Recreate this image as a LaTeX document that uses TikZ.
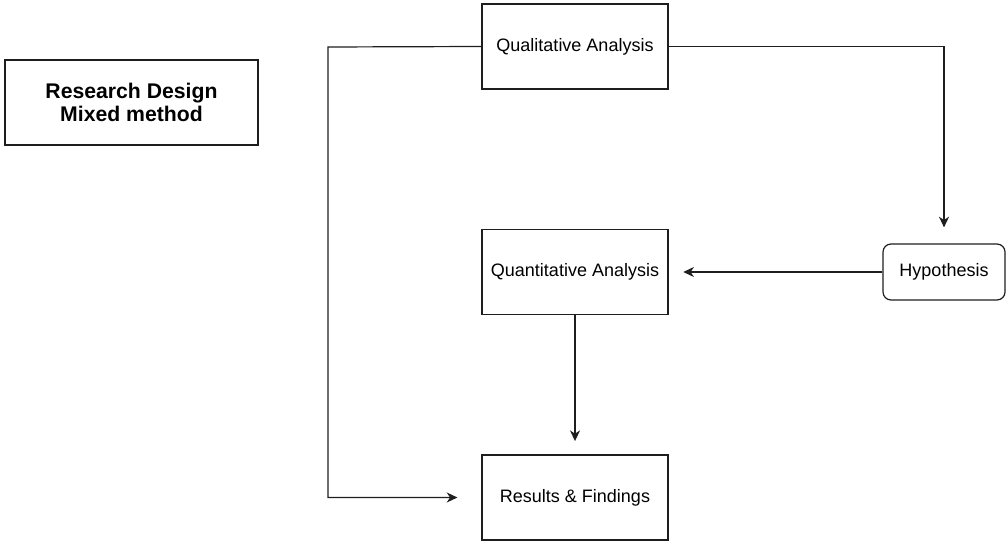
\documentclass[tikz,border=0pt]{standalone}
\usepackage{fontspec}
\setmainfont{Liberation Sans}
\usetikzlibrary{arrows.meta,positioning}
\definecolor{line1}{RGB}{30,30,30}

\begin{document}
\begin{tikzpicture}[
  x=0.75pt,y=-0.75pt,
  font=\fontsize{13.5}{16}\selectfont,
  box/.style={draw=line1,line width=0.9pt,minimum width=139.5pt,
              minimum height=63.75pt,align=center,inner sep=2pt},
  hbox/.style={draw=line1,line width=0.9pt,rounded corners=6pt,
               minimum width=91.5pt,minimum height=42pt,
               align=center,inner sep=2pt},
  title/.style={draw=line1,line width=0.9pt,minimum width=189.75pt,
                minimum height=63.75pt,align=center,inner sep=2pt,
                font=\bfseries\fontsize{15.9}{17.5}\selectfont},
  arr/.style={-{Stealth[length=8pt,width=7.5pt,inset=2.5pt]},
              line width=0.9pt,line1},
]
  \useasboundingbox (0,0) rectangle (1006,541);

  \node[title] (design) at (131.5,102.5) {Research Design\\Mixed method};

  \node[box] (qual) at (575,46.5) {Qualitative Analysis};
  \node[box] (quant) at (575,272) {Quantitative Analysis};
  \node[box] (res) at (575,497.5) {Results \& Findings};
  \node[hbox] (hyp) at (944,272) {Hypothesis};

  \coordinate (bend) at (328,47);

  \draw[arr,shorten >=18pt] (qual.west) -- (bend) |- (res.west);
  \draw[arr,shorten >=12pt] (qual.east) -| (hyp.north);
  \draw[arr,shorten >=11pt] (hyp.west) -- (quant.east);
  \draw[arr,shorten >=10pt] (quant.south) -- (res.north);
\end{tikzpicture}
\end{document}
